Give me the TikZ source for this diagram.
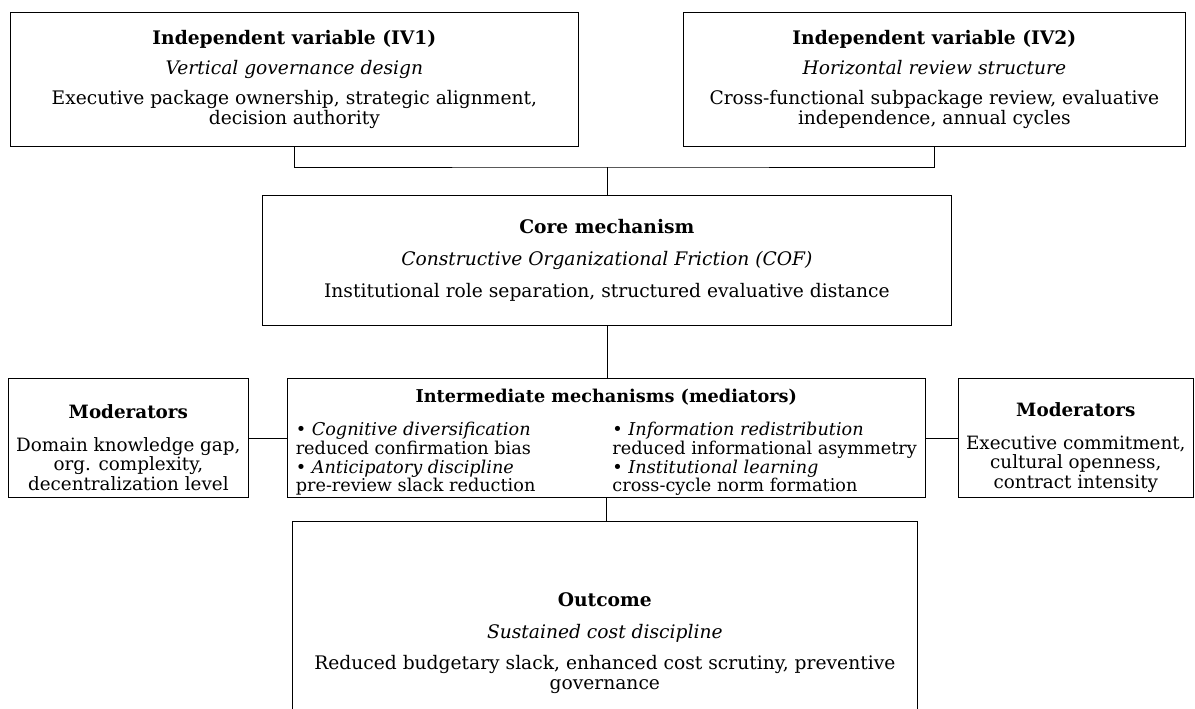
\documentclass[tikz,border=0pt]{standalone}
\usepackage{fontspec}
\setmainfont{DejaVu Serif}
\usetikzlibrary{positioning}
\tikzset{
  box/.style={draw, align=center, anchor=north west, inner sep=4pt,
    font=\fontsize{11.2}{12}\selectfont},
  sidebox/.style={box, inner xsep=1pt, inner ysep=0pt, font=\fontsize{11}{11.7}\selectfont},
}

\begin{document}
\begin{tikzpicture}[x=0.6pt,y=-0.6pt]
  \useasboundingbox (0,0) rectangle (1195,708);

  % independent variables
  \node [box, minimum width=340.8pt, minimum height=80.4pt] (iv1) at (10,12)
    {\textbf{Independent variable (IV1)}\\[6pt]
     \textit{Vertical governance design}\\[6pt]
     Executive package ownership, strategic alignment,\\ decision authority};
  \node [box, minimum width=301.2pt, minimum height=80.4pt] (iv2) at (683,12)
    {\textbf{Independent variable (IV2)}\\[6pt]
     \textit{Horizontal review structure}\\[6pt]
     Cross-functional subpackage review, evaluative\\ independence, annual cycles};

  % core
  \node [box, minimum width=413.4pt, minimum height=78pt] (core) at (262,195)
    {\textbf{Core mechanism}\\[7pt]
     \textit{Constructive Organizational Friction (COF)}\\[7pt]
     Institutional role separation, structured evaluative distance};

  % mediators and moderators
  \node [sidebox, font=\fontsize{10.6}{11.2}\selectfont, minimum width=382.8pt, minimum height=71.4pt] (med) at (287,378)
    {\rule{0pt}{14pt}\textbf{Intermediate mechanisms (mediators)}\\[9.5pt]
     \renewcommand{\arraystretch}{0.93}%
     \begin{tabular}{@{}p{190pt}@{}l@{}}
       \textbullet\ \textit{Cognitive diversification} & \textbullet\ \textit{Information redistribution}\\
       reduced confirmation bias & reduced informational asymmetry\\
       \textbullet\ \textit{Anticipatory discipline} & \textbullet\ \textit{Institutional learning}\\
       pre-review slack reduction & cross-cycle norm formation
     \end{tabular}};
  \node [sidebox, minimum width=144pt, minimum height=71.4pt] (modl) at (8,378)
    {\rule{0pt}{20pt}\textbf{Moderators}\\[8pt]
     Domain knowledge gap,\\ org. complexity,\\ decentralization level};
  \node [sidebox, minimum width=141pt, minimum height=71.4pt] (modr) at (958,378)
    {\rule{0pt}{20pt}\textbf{Moderators}\\[8pt]
     Executive commitment,\\ cultural openness,\\ contract intensity};

  % outcome
  \node [box, minimum width=375pt, minimum height=146.4pt] (out) at (292,521)
    {\textbf{Outcome}\\[7pt]
     \textit{Sustained cost discipline}\\[7pt]
     Reduced budgetary slack, enhanced cost scrutiny, preventive\\ governance};

  % connectors
  \path (core.north) ++(0,-28) coordinate (jn);
  \draw (iv1.south) |- (jn) -| (iv2.south);
  \draw (jn) -- (core.north);
  \draw (core.south) -- (core.south |- med.north);
  \draw (modl.east) -- (med.west);
  \draw (med.east) -- (modr.west);
  \draw (med.south) -- (med.south |- out.north);

\end{tikzpicture}
\end{document}
